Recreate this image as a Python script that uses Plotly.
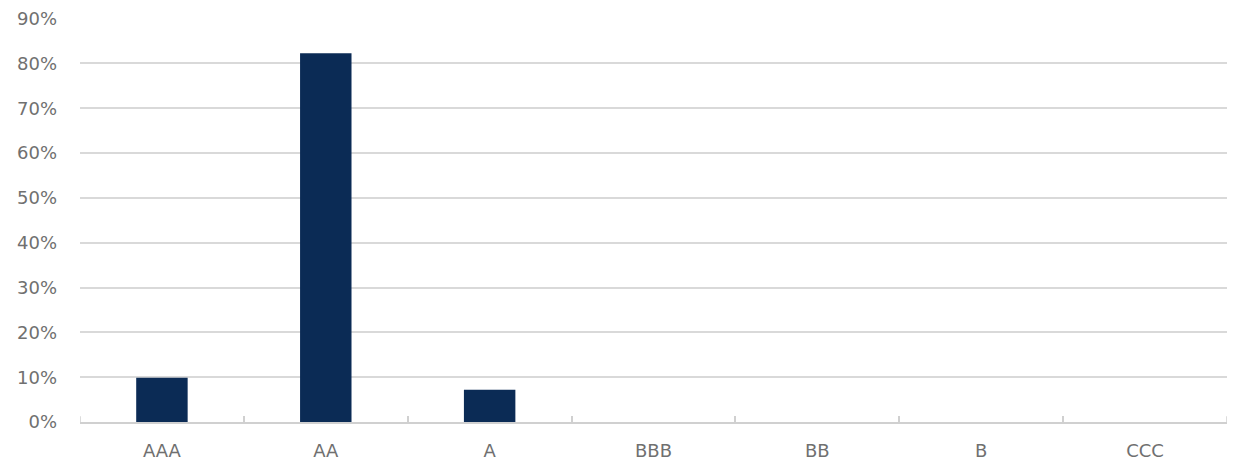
import plotly.graph_objects as go

categories = ["AAA", "AA", "A", "BBB", "BB", "B", "CCC"]
values = [0.099, 0.823, 0.072, 0, 0, 0, 0]
y_ticks = [0, 0.1, 0.2, 0.3, 0.4, 0.5, 0.6, 0.7, 0.8, 0.9]

fig = go.Figure(go.Bar(x=categories, y=values, marker=dict(color="#0b2b55", line=dict(width=0))))

font = dict(family="DejaVu Sans", size=18, color="#707070")
fig.update_layout(
    width=1235, height=466,
    margin=dict(l=80, r=8, t=18, b=44),
    plot_bgcolor="white", paper_bgcolor="white",
    bargap=0.686,
    showlegend=False,
    font=font,
)
fig.update_xaxes(
    tickson="boundaries", ticks="inside", ticklen=6, tickcolor="#d0d0d0", tickwidth=1.5,
    showline=True, linecolor="#d0d0d0", linewidth=1.5, mirror=False,
    showgrid=False, tickfont=font, ticklabelstandoff=12, automargin=False,
    range=[-0.5, len(categories) - 0.5],
)
fig.update_yaxes(
    range=[0, 0.9015], tickvals=y_ticks, tickformat=".0%",
    showgrid=True, gridcolor="#d9d9d9", gridwidth=1.5,
    zeroline=False, showline=False, ticks="", tickfont=font, ticklabelstandoff=22,
    automargin=False,
)
# end-boundary tick marks at both ends of the category axis
for xb in (-0.5, len(categories) - 0.5):
    fig.add_shape(type="line", xref="x", yref="y", x0=xb, x1=xb, y0=0, y1=0.013,
                  line=dict(color="#d0d0d0", width=1.5))
fig.write_html("out.html")
